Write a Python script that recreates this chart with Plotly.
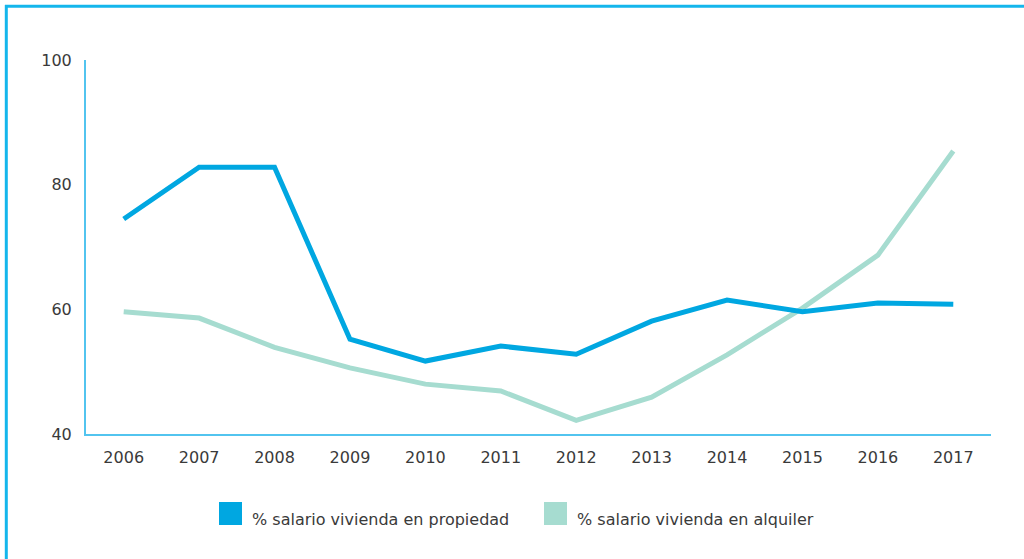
import plotly.graph_objects as go

years = [2006, 2007, 2008, 2009, 2010, 2011, 2012, 2013, 2014, 2015, 2016, 2017]
propiedad = [74.5, 82.8, 82.8, 55.2, 51.7, 54.1, 52.8, 58.1, 61.5, 59.6, 61.0, 60.8]
alquiler = [59.6, 58.6, 53.9, 50.6, 48.0, 46.9, 42.2, 45.9, 52.7, 60.2, 68.7, 85.4]
y_ticks = [40, 60, 80, 100]
series_names = ["% salario vivienda en propiedad", "% salario vivienda en alquiler"]

BLUE = "#00a7e1"
MINT = "#a6dcd0"
AXIS = "#52c4ef"
FRAME = "#14b6ec"
TEXT = "#3a3a3a"
FONT = "DejaVu Sans"

W, H = 1024, 559
L, R, T, B = 86, 33, 60, 125
PW, PH = W - L - R, H - T - B


def px_x(px):
    return (px - L) / PW


def px_y(py):
    return (H - B - py) / PH


fig = go.Figure()
fig.add_trace(go.Scatter(x=years, y=alquiler, mode="lines", name=series_names[1],
                         line=dict(color=MINT, width=5), showlegend=False))
fig.add_trace(go.Scatter(x=years, y=propiedad, mode="lines", name=series_names[0],
                         line=dict(color=BLUE, width=5), showlegend=False))

shapes = []
# outer frame: top and left edges
shapes.append(dict(type="line", xref="paper", yref="paper",
                   x0=px_x(5), x1=px_x(1030), y0=px_y(6.3), y1=px_y(6.3),
                   line=dict(color=FRAME, width=3)))
shapes.append(dict(type="line", xref="paper", yref="paper",
                   x0=px_x(6.3), x1=px_x(6.3), y0=px_y(5), y1=px_y(570),
                   line=dict(color=FRAME, width=3)))

# legend swatches and labels
annotations = []
legend_items = [(219, BLUE, series_names[0]), (544, MINT, series_names[1])]
for sx, col, label in legend_items:
    shapes.append(dict(type="rect", xref="paper", yref="paper",
                       x0=px_x(sx), x1=px_x(sx + 23), y0=px_y(502), y1=px_y(525),
                       fillcolor=col, line=dict(width=0)))
    annotations.append(dict(xref="paper", yref="paper", x=px_x(sx + 31), y=px_y(519),
                            xanchor="left", yanchor="middle", showarrow=False,
                            text=label, font=dict(family=FONT, size=16, color=TEXT)))

fig.update_layout(
    width=W, height=H,
    margin=dict(l=L, r=R, t=T, b=B),
    paper_bgcolor="white", plot_bgcolor="white",
    shapes=shapes, annotations=annotations,
    font=dict(family=FONT, size=16, color=TEXT),
    xaxis=dict(range=[2005.5, 2017.5], tickvals=years, ticktext=[str(y) for y in years],
               showgrid=False, zeroline=False, showline=True, linecolor=AXIS, linewidth=2,
               ticks="", ticklabelstandoff=8, fixedrange=True),
    yaxis=dict(range=[40, 100], tickvals=y_ticks, showgrid=False, zeroline=False,
               showline=True, linecolor=AXIS, linewidth=2, ticks="",
               ticklabelstandoff=9, fixedrange=True),
    showlegend=False,
)

fig.write_html("out.html", config={"displayModeBar": False})
